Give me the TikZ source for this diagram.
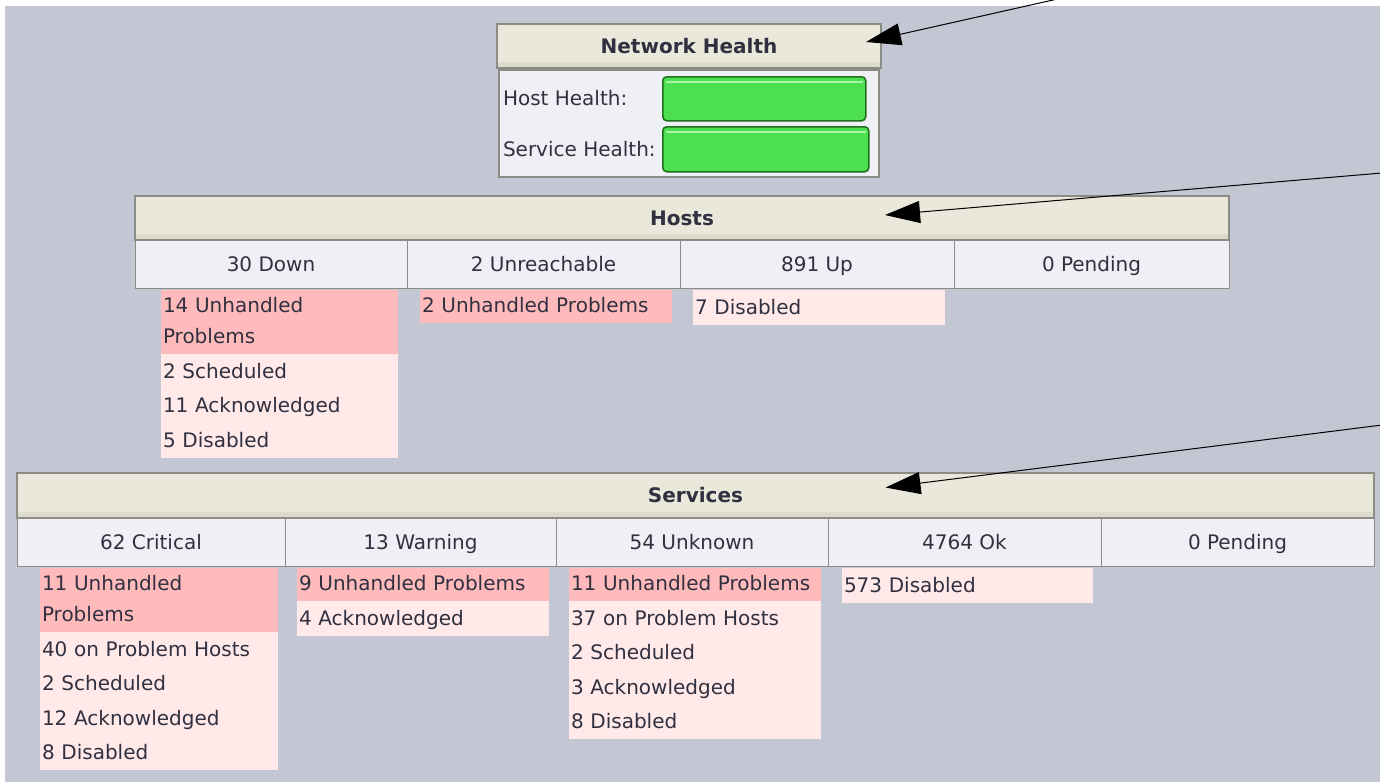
\documentclass[tikz,border=0pt]{standalone}
\usepackage{fontspec}
\setmainfont{DejaVu Sans}
\usetikzlibrary{positioning,arrows.meta}

\definecolor{panelbg}{RGB}{195,199,212}
\definecolor{headfill}{RGB}{234,232,218}
\definecolor{headband}{RGB}{221,219,203}
\definecolor{rowfill}{RGB}{239,240,245}
\definecolor{rule}{RGB}{140,140,132}
\definecolor{badfill}{RGB}{255,187,187}
\definecolor{softfill}{RGB}{255,233,233}
\definecolor{ink}{RGB}{48,48,64}
\definecolor{barfill}{RGB}{76,224,80}
\definecolor{barlight}{RGB}{170,245,170}
\definecolor{bardark}{RGB}{30,110,30}

\tikzset{
  txt/.style={text=ink, inner sep=0pt, outer sep=0pt, font=\fontsize{20}{34.5}\selectfont},
  title/.style={txt, anchor=north west, font=\bfseries\fontsize{20}{24}\selectfont,
    fill=headfill, draw=rule, line width=1.5pt, text height=14pt, text depth=0pt,
    path picture={\fill[headband] (path picture bounding box.south west)
      rectangle ([yshift=6pt]path picture bounding box.south east);}},
  statcell/.style={txt, anchor=north west, fill=rowfill, draw=rule, line width=1pt,
    minimum height=48, text height=14pt, text depth=0pt},
  sublist/.style={txt, anchor=north west, align=left, inner xsep=2pt, text width=#1,
    execute at begin node=\strut, execute at end node=\strut},
  badrow/.style={sublist=#1, fill=badfill, minimum height=33, font=\fontsize{20}{31}\selectfont},
  softrow/.style={sublist=#1, fill=softfill},
  healthbar/.style={anchor=north west, draw=bardark, line width=1.5pt, rounded corners=4pt,
    fill=barfill, path picture={\draw[barlight, line width=2.5pt]
      ([shift={(3pt,-5pt)}]path picture bounding box.north west) --
      ([shift={(-3pt,-5pt)}]path picture bounding box.north east);}},
  pointer/.style={-{Triangle[length=35pt,width=22pt]}, line width=1pt, black}
}

\begin{document}
\begin{tikzpicture}[x=1pt, y=-1pt]
  \useasboundingbox (0,0) rectangle (1380,782);
  \fill[white] (0,0) rectangle (1380,782);
  \fill[panelbg] (5,6) rectangle (1380,782);

  % network health
  \node[title, minimum width=384, minimum height=44] (nethdr) at (497,24) {Network Health};
  \node[anchor=north west, fill=rowfill, draw=rule, line width=1.5pt, minimum width=380, minimum height=107] (netbody) at (498,69) {};
  \node[txt, anchor=west, text height=14pt, text depth=0pt] (hostlbl) at (503,98) {Host Health:};
  \node[txt, anchor=west, text height=14pt, text depth=0pt] (servlbl) at (503,149) {Service Health:};
  \node[healthbar, minimum width=203, minimum height=44] (hostbar) at (662,76) {};
  \node[healthbar, minimum width=206, minimum height=45] (servbar) at (662,126) {};

  % hosts
  \node[title, minimum width=1094, minimum height=44] (hosthdr) at (135,196) {Hosts};
  \node[statcell, minimum width=272] (hdown) at (135,240) {30 Down};
  \node[statcell, minimum width=273, right=0pt of hdown] (hunreach) {2 Unreachable};
  \node[statcell, minimum width=274, right=0pt of hunreach] (hup) {891 Up};
  \node[statcell, minimum width=275, right=0pt of hup] (hpend) {0 Pending};

  \node[badrow=233pt, minimum height=64] (hdownbad) at (161,290) {14 Unhandled\\Problems};
  \node[softrow=233pt, below=0pt of hdownbad] (hdownsoft) {2 Scheduled\\11 Acknowledged\\5 Disabled};
  \node[badrow=248pt] (hunreachbad) at (420,290) {2 Unhandled Problems};
  \node[softrow=248pt] (hupsoft) at (693,290) {7 Disabled};

  % services
  \node[title, minimum width=1357, minimum height=45] (servhdr) at (17,473) {Services};
  \node[statcell, minimum width=268] (scrit) at (17,518) {62 Critical};
  \node[statcell, minimum width=271, right=0pt of scrit] (swarn) {13 Warning};
  \node[statcell, minimum width=272, right=0pt of swarn] (sunk) {54 Unknown};
  \node[statcell, minimum width=273, right=0pt of sunk] (sok) {4764 Ok};
  \node[statcell, minimum width=273, right=0pt of sok] (spend) {0 Pending};

  \node[badrow=234pt, minimum height=64] (scritbad) at (40,568) {11 Unhandled\\Problems};
  \node[softrow=234pt, below=0pt of scritbad] (scritsoft) {40 on Problem Hosts\\2 Scheduled\\12 Acknowledged\\8 Disabled};
  \node[badrow=248pt] (swarnbad) at (297,568) {9 Unhandled Problems};
  \node[softrow=248pt, below=0pt of swarnbad] (swarnsoft) {4 Acknowledged};
  \node[badrow=248pt] (sunkbad) at (569,568) {11 Unhandled Problems};
  \node[softrow=248pt, below=0pt of sunkbad] (sunksoft) {37 on Problem Hosts\\2 Scheduled\\3 Acknowledged\\8 Disabled};
  \node[softrow=247pt] (soksoft) at (842,568) {573 Disabled};

  % callouts
  \coordinate (tailA) at (1062,-2);
  \coordinate (tailB) at (1382,173);
  \coordinate (tailC) at (1382,425);
  \draw[pointer] (tailA) -- ([shift={(-15,-4)}]nethdr.east);
  \draw[pointer] (tailB) -- ([shift={(203,-3)}]hosthdr.center);
  \draw[pointer] (tailC) -- ([shift={(190,-8)}]servhdr.center);
\end{tikzpicture}
\end{document}
